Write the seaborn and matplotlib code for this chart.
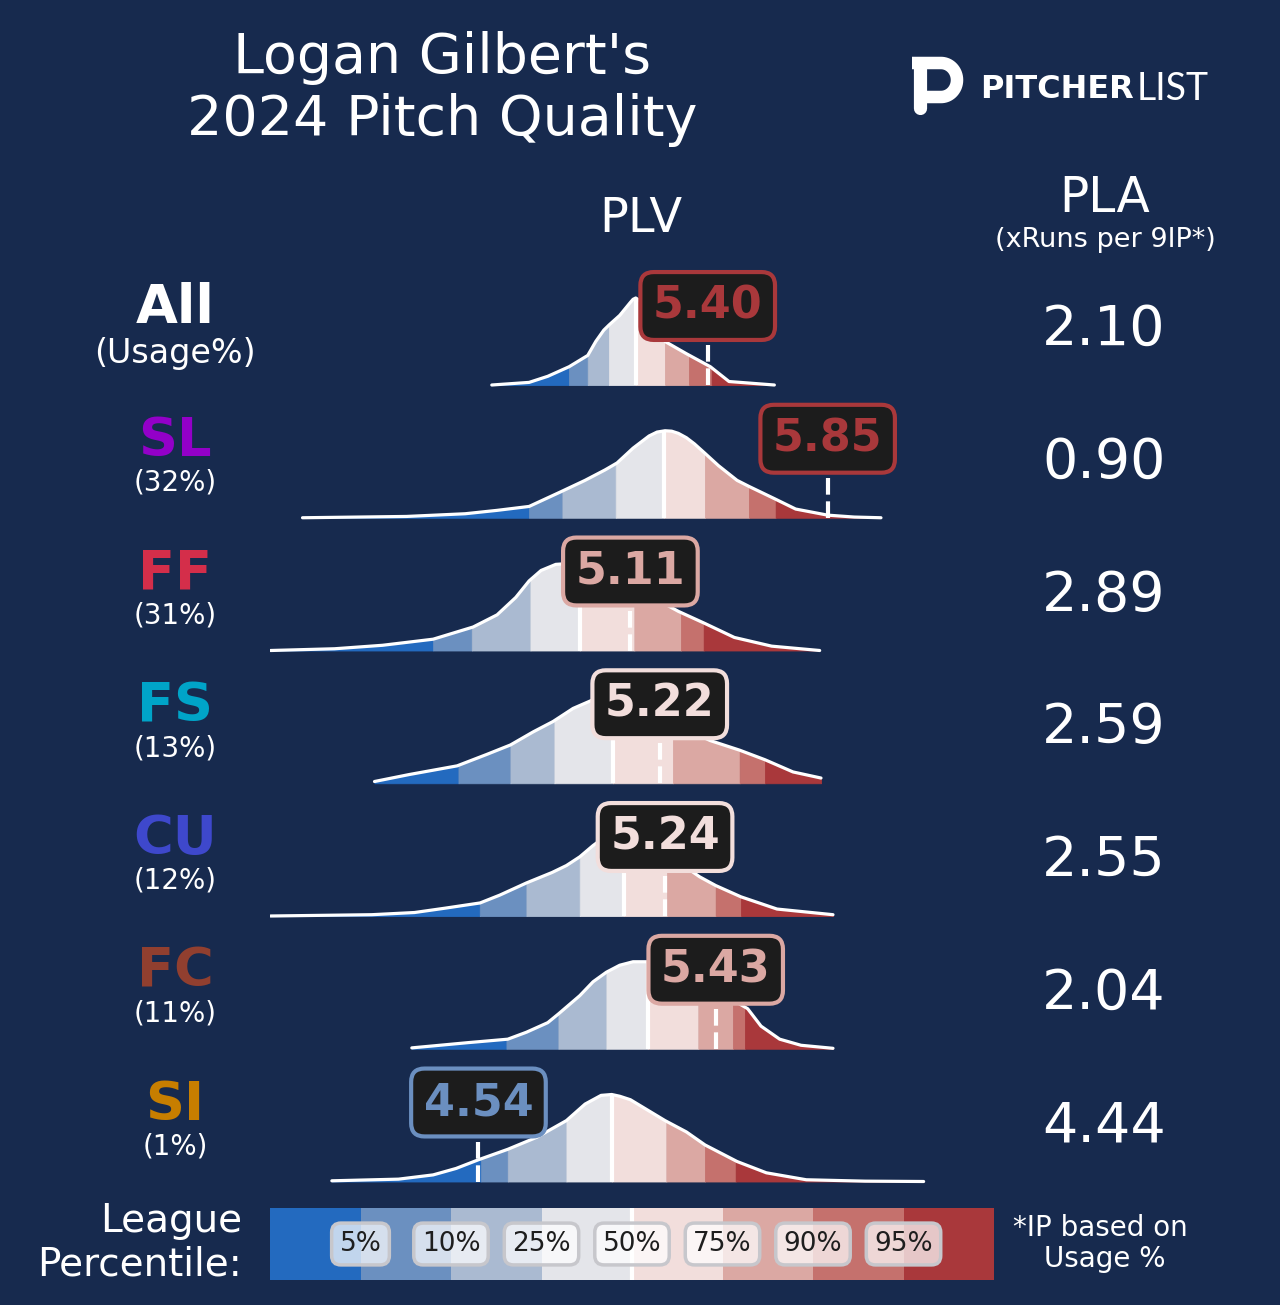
import numpy as np
import matplotlib
matplotlib.use("Agg")
import matplotlib.pyplot as plt
import seaborn as sns
from matplotlib.colors import ListedColormap

sns.set_theme(style="white")
plt.rcParams["font.family"] = ["DejaVu Sans"]

# ---------------- data ----------------
pitch_names = ["All", "SL", "FF", "FS", "CU", "FC", "SI"]
usage_labels = ["(Usage%)", "(32%)", "(31%)", "(13%)", "(12%)", "(11%)", "(1%)"]
plv_values = [5.40, 5.85, 5.11, 5.22, 5.24, 5.43, 4.54]
pla_values = [2.10, 0.90, 2.89, 2.59, 2.55, 2.04, 4.44]
percentile_labels = ["5%", "10%", "25%", "50%", "75%", "90%", "95%"]

# league PLV distributions (x = PLV, y = relative density)
all_x = [4.59, 4.73, 4.80, 4.88, 4.95, 4.98, 5.01, 5.03, 5.07, 5.11, 5.12, 5.13, 5.145, 5.16, 5.18, 5.24, 5.32, 5.41, 5.48, 5.65]
all_y = [0.00, 0.03, 0.10, 0.21, 0.34, 0.50, 0.63, 0.69, 0.80, 0.95, 0.985, 1.00, 0.97, 0.90, 0.80, 0.50, 0.36, 0.21, 0.04, 0.00]
all_cuts = [4.88, 4.95, 5.03, 5.13, 5.24, 5.33, 5.415]

sl_x = [3.88, 4.27, 4.49, 4.61, 4.73, 4.85, 4.94, 5.015, 5.06, 5.12, 5.18, 5.21, 5.24, 5.265, 5.29, 5.32, 5.35, 5.39, 5.44, 5.51, 5.555, 5.65, 5.73, 5.85, 5.95, 6.05]
sl_y = [0.0, 0.015, 0.046, 0.085, 0.13, 0.30, 0.43, 0.55, 0.63, 0.80, 0.94, 0.985, 1.0, 0.995, 0.97, 0.92, 0.85, 0.74, 0.60, 0.43, 0.36, 0.22, 0.10, 0.03, 0.008, 0.0]
sl_cuts = [4.73, 4.855, 5.055, 5.235, 5.39, 5.555, 5.655]

ff_x = [3.76, 4.00, 4.18, 4.37, 4.52, 4.61, 4.68, 4.73, 4.775, 4.83, 4.88, 4.92, 5.00, 5.11, 5.20, 5.29, 5.39, 5.50, 5.64, 5.82]
ff_y = [0.0, 0.02, 0.06, 0.13, 0.27, 0.41, 0.61, 0.80, 0.92, 0.99, 1.0, 0.98, 0.92, 0.78, 0.60, 0.45, 0.31, 0.15, 0.05, 0.0]
ff_cuts = [4.37, 4.515, 4.735, 4.92, 5.125, 5.30, 5.385]

fs_x = [4.15, 4.28, 4.46, 4.57, 4.66, 4.745, 4.82, 4.895, 4.97, 5.045, 5.15, 5.24, 5.33, 5.41, 5.52, 5.615, 5.72, 5.825]
fs_y = [0.02, 0.10, 0.20, 0.33, 0.44, 0.59, 0.71, 0.86, 0.96, 1.0, 0.93, 0.78, 0.60, 0.49, 0.38, 0.27, 0.13, 0.06]
fs_cuts = [4.465, 4.66, 4.825, 5.045, 5.27, 5.52, 5.615]

cu_x = [3.76, 4.14, 4.30, 4.415, 4.546, 4.62, 4.72, 4.816, 4.87, 4.92, 4.97, 5.01, 5.07, 5.18, 5.30, 5.37, 5.43, 5.525, 5.66, 5.87]
cu_y = [0.0, 0.015, 0.04, 0.09, 0.15, 0.24, 0.38, 0.50, 0.58, 0.68, 0.81, 0.90, 1.0, 0.85, 0.60, 0.45, 0.35, 0.22, 0.08, 0.015]
cu_cuts = [4.545, 4.72, 4.92, 5.085, 5.248, 5.43, 5.525]

fc_x = [4.29, 4.50, 4.65, 4.72, 4.80, 4.84, 4.92, 4.97, 5.02, 5.07, 5.12, 5.17, 5.30, 5.41, 5.50, 5.55, 5.60, 5.67, 5.75, 5.87]
fc_y = [0.01, 0.07, 0.11, 0.19, 0.30, 0.40, 0.61, 0.77, 0.88, 0.96, 1.0, 1.0, 0.93, 0.75, 0.55, 0.46, 0.26, 0.11, 0.04, 0.005]
fc_cuts = [4.645, 4.84, 5.02, 5.175, 5.365, 5.495, 5.54]

si_x = [3.99, 4.24, 4.37, 4.456, 4.54, 4.65, 4.76, 4.87, 4.94, 5.00, 5.04, 5.07, 5.11, 5.24, 5.32, 5.39, 5.51, 5.62, 5.77, 5.99, 6.21]
si_y = [0.008, 0.027, 0.076, 0.15, 0.25, 0.37, 0.51, 0.70, 0.89, 0.99, 1.0, 0.98, 0.94, 0.70, 0.57, 0.42, 0.23, 0.10, 0.02, 0.004, 0.0]
si_cuts = [4.55, 4.65, 4.87, 5.04, 5.245, 5.39, 5.505]

dist_x = [all_x, sl_x, ff_x, fs_x, cu_x, fc_x, si_x]
dist_y = [all_y, sl_y, ff_y, fs_y, cu_y, fc_y, si_y]
dist_cuts = [all_cuts, sl_cuts, ff_cuts, fs_cuts, cu_cuts, fc_cuts, si_cuts]

# ---------------- style ----------------
BG = "#172a4e"
BAND_COLORS = ["#236abf", "#6b90c0", "#aabad1", "#e4e5ea", "#f2dedc", "#dba8a3", "#c5716d", "#a9383b"]
NAME_COLORS = ["white", "#9300c8", "#d42e4a", "#00a4c8", "#3e48cc", "#913f2f", "#c77e00"]
BOX_COLORS = ["#a9383b", "#a9383b", "#dba8a3", "#f2dedc", "#f2dedc", "#dba8a3", "#6b8fc0"]
W, H = 1280, 1305
ROW0, ROW_STEP, PEAK = 385.0, 132.75, 87.0


def frac_box(x0, y0, x1, y1):
    return [x0 / W, 1 - y1 / H, (x1 - x0) / W, (y1 - y0) / H]


fig = plt.figure(figsize=(12.8, 13.05), dpi=100, facecolor=BG)

# overlay axes in pixel coordinates for text
ov = fig.add_axes([0, 0, 1, 1])
ov.set_xlim(0, W)
ov.set_ylim(H, 0)
ov.axis("off")
ov.patch.set_alpha(0)

# density axes: x in PLV, y in pixel rows
ax = fig.add_axes(frac_box(270, 250, 994, 1195))
ax.set_xlim(3.758, 6.474)
ax.set_ylim(1195, 250)
ax.axis("off")
ax.patch.set_alpha(0)

for i in range(len(pitch_names)):
    base = ROW0 + i * ROW_STEP
    xs = np.array(dist_x[i])
    hs = np.array(dist_y[i])
    cuts = dist_cuts[i]
    edges = [xs[0]] + list(cuts) + [xs[-1]]
    for k in range(8):
        lo, hi = edges[k], edges[k + 1]
        inner = xs[(xs > lo) & (xs < hi)]
        seg = np.concatenate([[lo], inner, [hi]])
        segh = np.interp(seg, xs, hs)
        ax.fill_between(seg, base, base - segh * PEAK, facecolor=BAND_COLORS[k],
                        edgecolor=BAND_COLORS[k], lw=0.6, zorder=2)
    m = cuts[3]
    hm = np.interp(m, xs, hs)
    ax.plot([m, m], [base, base - hm * PEAK], color="white", lw=3, zorder=3,
            solid_capstyle="butt")
    sns.lineplot(x=xs, y=base - hs * PEAK, ax=ax, color="white", lw=2.3,
                 sort=False, estimator=None, zorder=4)
    v = plv_values[i]
    ax.plot([v, v], [base, base - 55], color="white", lw=3, ls=(0, (4, 1.6)), zorder=5)
    bc = BOX_COLORS[i]
    ax.text(v, base - 79, f"{v:.2f}", ha="center", va="center", fontsize=32,
            fontweight="bold", color=bc, zorder=6,
            bbox=dict(boxstyle="round,pad=0.28,rounding_size=0.3", fc="#1c1c1c",
                      ec=bc, lw=3))

    # left labels
    ov.text(175, base - 77, pitch_names[i], ha="center", va="center", fontsize=39,
            fontweight="bold", color=NAME_COLORS[i])
    if i == 0:
        ov.text(175, base - 32, usage_labels[i], ha="center", va="center",
                fontsize=24, color="white")
    else:
        ov.text(175, base - 35, usage_labels[i], ha="center", va="center",
                fontsize=20, color="white")
    # PLA values
    ov.text(1104, base - 55, f"{pla_values[i]:.2f}", ha="center", va="center",
            fontsize=40, color="white")

# titles
ov.text(442, 58, "Logan Gilbert's", ha="center", va="center", fontsize=40, color="white")
ov.text(442, 120, "2024 Pitch Quality", ha="center", va="center", fontsize=40, color="white")
ov.text(641, 218, "PLV", ha="center", va="center", fontsize=34.5, color="white")
ov.text(1105, 198, "PLA", ha="center", va="center", fontsize=35, color="white")
ov.text(1105, 240, "(xRuns per 9IP*)", ha="center", va="center", fontsize=19.5, color="white")

# logo
ov.plot([919.5, 919.5], [66, 108], color="white", lw=9.5, solid_capstyle="round")
t = np.linspace(-np.pi / 2, np.pi / 2, 40)
px = np.concatenate([[912], 941 + 16 * np.cos(t), [926]])
py = np.concatenate([[63], 80 + 17 * np.sin(t), [97]])
ov.plot(px, py, color="white", lw=9, solid_capstyle="butt", solid_joinstyle="round")
ov.text(980, 89, "PITCHER", ha="left", va="center", fontsize=23, fontweight="bold", color="white")
ov.text(1137, 89, "LIST", ha="left", va="center", fontsize=27, fontweight="normal",
        family=["Lato", "DejaVu Sans"], color="white")

# legend colour strip
axc = fig.add_axes(frac_box(270, 1208, 994, 1280))
sns.heatmap(np.arange(8).reshape(1, 8), cmap=ListedColormap(BAND_COLORS), vmin=-0.5,
            vmax=7.5, cbar=False, ax=axc, xticklabels=False, yticklabels=False)
axc.axvline(4, color="white", lw=3)
for j, lab in enumerate(percentile_labels):
    axc.text(j + 1, 0.5, lab, ha="center", va="center", fontsize=19, color="#1e1e1e",
             bbox=dict(boxstyle="round,pad=0.3,rounding_size=0.35", fc=(1, 1, 1, 0.72),
                       ec=(0.78, 0.78, 0.8), lw=2.5))

ov.text(242, 1221, "League", ha="right", va="center", fontsize=28, color="white")
ov.text(242, 1265, "Percentile:", ha="right", va="center", fontsize=28, color="white")
ov.text(1100, 1228, "*IP based on", ha="center", va="center", fontsize=20, color="white")
ov.text(1105, 1259, "Usage %", ha="center", va="center", fontsize=20, color="white")

fig.savefig("out.png", dpi=100, facecolor=BG)
